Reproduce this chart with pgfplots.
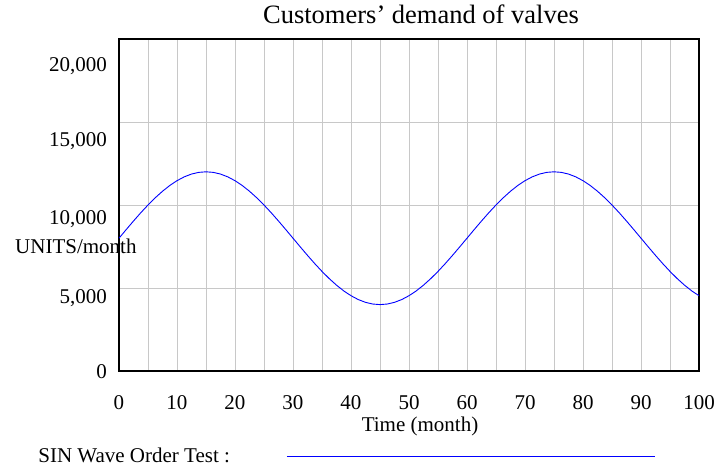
\documentclass[border=0pt]{standalone}
\usepackage{pgfplots}
\pgfplotsset{compat=1.18}
\usepackage{fontspec}
\setmainfont{Liberation Serif}
\definecolor{gridgray}{RGB}{200,200,200}
\begin{document}
\begin{tikzpicture}
\useasboundingbox (-119pt,-98pt) rectangle (599pt,371pt);
\begin{axis}[
  at={(0pt,0pt)}, anchor=south west,
  scale only axis, width=580pt, height=332pt,
  xmin=0, xmax=100, ymin=0, ymax=20000,
  scaled y ticks=false,
  xtick={0,10,...,100}, minor xtick={5,15,...,95},
  ytick={0,5000,10000,15000,20000},
  yticklabels={{\raisebox{-7pt}{0}},{\raisebox{-15pt}{5,000}},{\raisebox{-19pt}{10,000}},{\raisebox{-24pt}{15,000}},{\raisebox{-33pt}{20,000}}},
  major tick length=0pt, minor tick length=0pt,
  xmajorgrids, xminorgrids, ymajorgrids,
  grid style={gridgray, line width=0.8pt},
  minor grid style={gridgray, line width=0.8pt},
  axis line style={black, line width=1.8pt},
  /pgf/number format/assume math mode=true,
  tick label style={font=\fontsize{21}{25}\selectfont},
  xticklabel style={anchor=base, yshift=-38pt},
  yticklabel style={anchor=base east, inner sep=0pt, xshift=-12pt},
  title={Customers’ demand of valves},
  title style={at={(0.5,1)}, anchor=base, xshift=12pt, yshift=10pt, font=\fontsize{26.5}{30}\selectfont},
  xlabel={Time (month)},
  xlabel style={at={(rel axis cs:0.519,-0.1837)}, anchor=base, inner sep=0pt, font=\fontsize{21}{25}\selectfont},
  ylabel={UNITS/month},
  ylabel style={at={(rel axis cs:-0.1793,0.3554)}, rotate=-90, anchor=base west, inner sep=0pt, font=\fontsize{21}{25}\selectfont},
  legend plot pos=right,
  legend style={draw=none, fill=none, at={(rel axis cs:-0.148,-0.256)}, anchor=west, font=\fontsize{21}{25}\selectfont},
  legend image code/.code={\path[draw=none] (0pt,0pt) -- (1pt,0pt); \draw[#1] (55pt,0pt) -- (423pt,0pt);},
]
\addplot[blue, line width=0.9pt] coordinates {
(0,8000) (1.25,8522) (2.5,9035) (3.75,9531) (5,10000) (6.25,10435) (7.5,10828) (8.75,11174)
(10,11464) (11.25,11696) (12.5,11864) (13.75,11966) (15,12000) (16.25,11966) (17.5,11864) (18.75,11696)
(20,11464) (21.25,11174) (22.5,10828) (23.75,10435) (25,10000) (26.25,9531) (27.5,9035) (28.75,8522)
(30,8000) (31.25,7478) (32.5,6965) (33.75,6469) (35,6000) (36.25,5565) (37.5,5172) (38.75,4826)
(40,4536) (41.25,4304) (42.5,4136) (43.75,4034) (45,4000) (46.25,4034) (47.5,4136) (48.75,4304)
(50,4536) (51.25,4826) (52.5,5172) (53.75,5565) (55,6000) (56.25,6469) (57.5,6965) (58.75,7478)
(60,8000) (61.25,8522) (62.5,9035) (63.75,9531) (65,10000) (66.25,10435) (67.5,10828) (68.75,11174)
(70,11464) (71.25,11696) (72.5,11864) (73.75,11966) (75,12000) (76.25,11966) (77.5,11864) (78.75,11696)
(80,11464) (81.25,11174) (82.5,10828) (83.75,10435) (85,10000) (86.25,9531) (87.5,9035) (88.75,8522)
(90,8000) (91.25,7478) (92.5,6965) (93.75,6469) (95,6000) (96.25,5565) (97.5,5172) (98.75,4826)
(100,4536)
};
\addlegendentry{SIN Wave Order Test :}
\end{axis}
\end{tikzpicture}
\end{document}
